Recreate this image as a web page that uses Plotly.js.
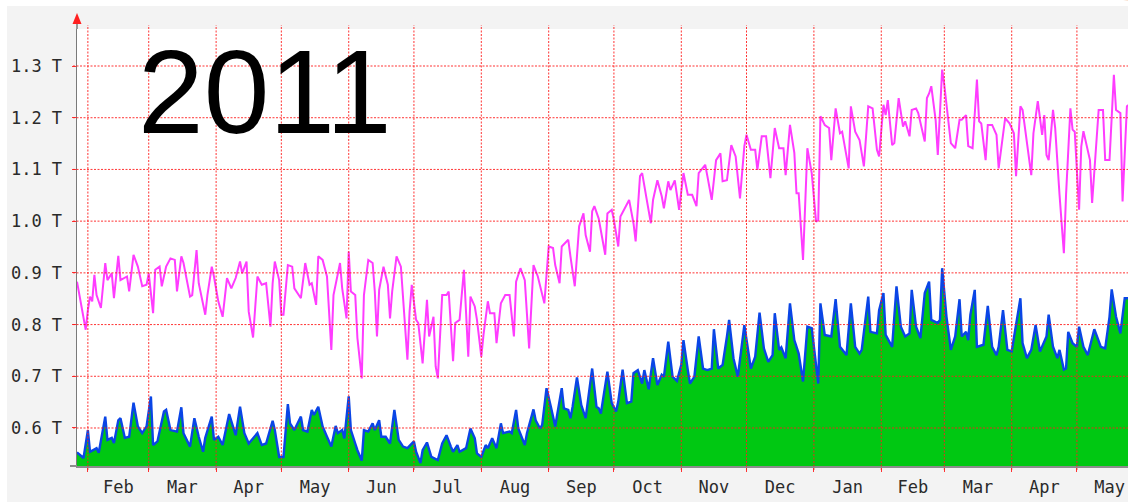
<!DOCTYPE html>
<html>
<head>
<meta charset="utf-8">
<script src="https://cdn.plot.ly/plotly-3.0.1.min.js"></script>
<style>
html,body{margin:0;padding:0;background:#ffffff;}
#chart{width:1128px;height:502px;}
</style>
</head>
<body>
<div id="chart"></div>
<script>
// ---------- data ----------
const START_DATE = '2011-01-27';          // day 0 of the series
const END_DAY = 483.5;                    // right edge of the visible window
const titleText = '2011';
const yTickValues = [0.6, 0.7, 0.8, 0.9, 1.0, 1.1, 1.2, 1.3];
const yTickLabels = ['0.6 T', '0.7 T', '0.8 T', '0.9 T', '1.0 T', '1.1 T', '1.2 T', '1.3 T'];

// green area / blue line series (day offsets + values in T)
const avgDays = [0,3,5,6,9,10,13,14,16,17,19,20,22,24,26,28,30,32,34,35,37,40,41,43,46,48,49,52,54,56,58,59,62,63,65,67,70,72,73,75,77,79,83,85,87,90,91,93,95,97,98,100,103,104,106,108,109,111,113,115,117,119,120,122,123,125,126,128,129,131,132,134,136,137,139,140,142,144,146,148,150,152,155,156,158,159,161,163,166,168,170,172,173,175,176,179,181,183,184,186,188,189,191,193,194,195,196,199,200,202,203,206,207,210,211,213,214,216,218,220,221,223,224,226,227,228,230,232,234,236,237,239,240,241,244,246,248,249,251,253,255,256,258,260,261,263,265,267,269,270,272,274,276,278,279,281,282,284,286,288,290,292,293,295,297,299,300,302,304,307,310,312,314,316,318,320,321,323,324,326,328,330,332,334,336,338,341,342,344,347,349,351,354,356,358,360,361,364,365,368,369,371,372,375,377,379,381,383,384,386,388,390,392,393,396,397,398,400,402,404,406,407,409,410,411,413,414,417,419,421,423,424,426,428,430,431,434,435,437,439,441,443,446,447,449,451,452,454,455,456,458,460,461,463,465,468,471,473,475,476,478,480,482,484];
const avgValues = [0.553,0.542,0.596,0.554,0.561,0.552,0.622,0.577,0.581,0.571,0.615,0.619,0.581,0.583,0.649,0.603,0.590,0.603,0.661,0.567,0.574,0.632,0.635,0.596,0.593,0.640,0.590,0.564,0.619,0.583,0.554,0.581,0.622,0.577,0.583,0.567,0.627,0.596,0.586,0.641,0.590,0.570,0.590,0.567,0.570,0.614,0.596,0.544,0.544,0.646,0.609,0.596,0.622,0.596,0.593,0.635,0.625,0.641,0.603,0.583,0.564,0.604,0.590,0.596,0.580,0.661,0.596,0.570,0.557,0.537,0.596,0.593,0.609,0.596,0.615,0.583,0.583,0.570,0.635,0.577,0.564,0.561,0.574,0.554,0.532,0.557,0.572,0.544,0.538,0.570,0.586,0.564,0.554,0.567,0.554,0.561,0.599,0.580,0.551,0.544,0.567,0.561,0.580,0.561,0.583,0.609,0.590,0.593,0.590,0.635,0.599,0.567,0.590,0.636,0.615,0.599,0.606,0.677,0.641,0.603,0.628,0.677,0.638,0.635,0.619,0.641,0.698,0.644,0.619,0.680,0.715,0.641,0.638,0.628,0.709,0.648,0.632,0.651,0.713,0.648,0.651,0.706,0.712,0.686,0.712,0.675,0.735,0.683,0.703,0.699,0.767,0.699,0.691,0.722,0.770,0.712,0.686,0.699,0.777,0.715,0.712,0.715,0.791,0.715,0.722,0.777,0.809,0.735,0.699,0.799,0.715,0.738,0.823,0.754,0.728,0.741,0.822,0.751,0.756,0.735,0.841,0.770,0.744,0.690,0.796,0.793,0.686,0.841,0.780,0.777,0.849,0.757,0.741,0.841,0.757,0.744,0.751,0.854,0.786,0.783,0.828,0.861,0.780,0.757,0.874,0.796,0.777,0.783,0.867,0.796,0.774,0.861,0.883,0.809,0.803,0.809,0.909,0.815,0.751,0.777,0.849,0.777,0.786,0.770,0.819,0.867,0.757,0.761,0.836,0.757,0.741,0.757,0.828,0.751,0.748,0.774,0.851,0.764,0.735,0.751,0.799,0.748,0.777,0.819,0.757,0.735,0.751,0.713,0.715,0.786,0.764,0.757,0.796,0.757,0.741,0.791,0.757,0.754,0.815,0.868,0.815,0.783,0.851,0.851];

// magenta line series (day offsets + values in T)
const maxDays = [0,2,4,5,6,7,8,9,11,13,14,16,17,19,20,23,24,26,28,30,32,33,35,36,38,39,41,43,45,46,48,49,52,53,55,56,59,60,62,63,65,67,69,71,73,75,76,78,79,81,83,85,87,89,90,91,93,94,95,97,99,100,103,105,107,108,110,111,113,115,117,118,121,122,124,125,126,128,129,131,132,134,136,137,138,139,141,143,144,145,147,149,150,152,153,154,156,157,159,161,162,164,165,166,168,170,171,173,174,176,178,180,181,183,184,186,187,189,190,192,193,195,197,199,201,202,204,206,208,210,212,213,215,217,219,220,222,223,226,227,229,231,233,234,236,237,238,240,242,243,244,246,247,249,250,252,254,256,257,259,260,262,264,265,267,269,270,272,273,275,277,279,281,283,285,286,289,290,292,294,296,297,299,301,303,305,307,308,310,312,313,315,317,319,321,323,325,326,328,330,331,332,334,336,338,340,341,342,344,346,347,349,351,352,355,356,358,360,362,364,366,368,369,371,372,373,375,376,378,380,381,383,384,386,387,390,391,392,393,395,396,398,399,402,404,406,407,409,410,412,414,415,416,418,419,421,423,424,427,429,431,432,434,435,437,439,440,442,444,445,446,447,449,450,452,454,455,457,458,459,461,462,463,465,466,467,470,472,473,475,477,478,480,481,483,484];
const maxValues = [0.883,0.835,0.790,0.828,0.854,0.845,0.896,0.857,0.832,0.919,0.886,0.899,0.851,0.933,0.886,0.893,0.864,0.935,0.912,0.874,0.877,0.899,0.822,0.906,0.912,0.874,0.912,0.928,0.925,0.864,0.932,0.919,0.854,0.857,0.944,0.880,0.819,0.857,0.912,0.893,0.845,0.815,0.890,0.870,0.890,0.922,0.899,0.922,0.825,0.775,0.893,0.877,0.880,0.796,0.880,0.922,0.886,0.819,0.819,0.915,0.912,0.870,0.851,0.919,0.877,0.880,0.838,0.932,0.925,0.893,0.751,0.857,0.919,0.870,0.812,0.941,0.864,0.857,0.774,0.696,0.857,0.925,0.919,0.864,0.777,0.867,0.912,0.877,0.812,0.864,0.932,0.912,0.857,0.732,0.825,0.877,0.809,0.803,0.725,0.848,0.777,0.815,0.719,0.696,0.857,0.857,0.864,0.729,0.803,0.809,0.906,0.738,0.854,0.835,0.809,0.738,0.780,0.845,0.822,0.822,0.764,0.841,0.857,0.857,0.777,0.883,0.909,0.886,0.754,0.915,0.893,0.877,0.841,0.951,0.948,0.915,0.880,0.951,0.964,0.932,0.874,0.990,1.015,0.973,0.941,1.019,1.029,1.005,0.957,0.935,1.015,1.022,1.002,0.951,1.009,1.025,1.041,0.996,0.961,1.087,1.093,1.044,0.996,1.041,1.079,1.048,1.025,1.077,1.060,1.079,1.022,1.093,1.051,1.051,1.029,1.093,1.109,1.087,1.041,1.118,1.131,1.077,1.079,1.147,1.125,1.044,1.145,1.167,1.138,1.138,1.099,1.164,1.164,1.083,1.180,1.141,1.141,1.089,1.186,1.132,1.054,1.054,0.925,1.141,1.093,0.999,1.002,1.203,1.186,1.180,1.118,1.218,1.170,1.173,1.102,1.222,1.173,1.157,1.106,1.222,1.218,1.138,1.125,1.225,1.205,1.234,1.147,1.151,1.238,1.183,1.193,1.164,1.215,1.218,1.209,1.154,1.238,1.247,1.261,1.196,1.128,1.293,1.263,1.151,1.141,1.196,1.196,1.205,1.145,1.141,1.274,1.193,1.189,1.118,1.186,1.186,1.167,1.102,1.199,1.189,1.170,1.087,1.222,1.215,1.157,1.089,1.170,1.232,1.167,1.205,1.128,1.118,1.215,1.180,1.051,0.938,1.051,1.218,1.177,1.173,1.022,1.144,1.174,1.138,1.118,1.035,1.215,1.215,1.118,1.118,1.283,1.215,1.209,1.038,1.222,1.225];

// ---------- helpers ----------
const DAY_MS = 86400000;
const startMs = Date.parse(START_DATE + 'T00:00:00Z');
function dayToDate(d) {
  return new Date(startMs + d * DAY_MS).toISOString().replace('T', ' ').replace('Z', '').slice(0, 19);
}
const avgDates = avgDays.map(dayToDate);
const maxDates = maxDays.map(dayToDate);
const xRange = [dayToDate(0), dayToDate(END_DAY)];

// month boundaries inside the window (for the dotted grid drawn over the data)
const monthStarts = [];
{
  const s = new Date(startMs), e = startMs + END_DAY * DAY_MS;
  let y = s.getUTCFullYear(), m = s.getUTCMonth() + 1;
  while (true) {
    const t = Date.UTC(y, m, 1);
    if (t > e) break;
    monthStarts.push(new Date(t).toISOString().slice(0, 10));
    m++;
  }
}

// plot-area geometry (pixels) -> paper coordinates for decorations
const ML = 77, MT = 29, MB = 36, W = 1128, H = 502;
const PW = W - ML, PH = H - MT - MB;
const px = x => (x - ML) / PW;
const py = y => (MT + PH - y) / PH;

const GRID_COLOR = 'rgba(255,30,30,0.9)';
const GRID_DASH = '2px,1.5px';

const shapes = [];
// grey frame of the rrd picture
shapes.push({type: 'rect', xref: 'paper', yref: 'paper', layer: 'below',
  x0: px(7), x1: px(1140), y0: py(510), y1: py(6),
  fillcolor: '#f3f3f3', line: {width: 0}});
// white canvas of the plotting area
shapes.push({type: 'rect', xref: 'paper', yref: 'paper', layer: 'below',
  x0: 0, x1: px(1140), y0: 0, y1: 1,
  fillcolor: '#ffffff', line: {width: 0}});
// faint orange blob at the top right (slide decoration)
shapes.push({type: 'circle', xref: 'paper', yref: 'paper', layer: 'below',
  x0: px(1040), x1: px(1330), y0: py(6), y1: py(-120),
  fillcolor: 'rgba(246,214,190,0.75)', line: {width: 0}});
// horizontal dotted grid
yTickValues.forEach(v => shapes.push({type: 'line', xref: 'paper', yref: 'y', layer: 'above',
  x0: px(73), x1: 1, y0: v, y1: v, line: {color: GRID_COLOR, width: 1, dash: GRID_DASH}}));
// vertical dotted grid at month starts
monthStarts.forEach(d => shapes.push({type: 'line', xref: 'x', yref: 'paper', layer: 'above',
  x0: d, x1: d, y0: py(470), y1: py(25), line: {color: GRID_COLOR, width: 1, dash: GRID_DASH}}));
// y axis extension + red arrow
shapes.push({type: 'line', xref: 'paper', yref: 'paper', layer: 'above',
  x0: 0, x1: 0, y0: 1, y1: py(22), line: {color: '#7a7a7a', width: 1.5}});
shapes.push({type: 'path', xref: 'paper', yref: 'paper', layer: 'above',
  path: 'M ' + px(77) + ' ' + py(13) + ' L ' + px(72.5) + ' ' + py(24) + ' L ' + px(81.5) + ' ' + py(24) + ' Z',
  fillcolor: '#ff2020', line: {width: 0}});
// x axis extension to the left
shapes.push({type: 'line', xref: 'paper', yref: 'paper', layer: 'above',
  x0: px(70), x1: 0, y0: 0, y1: 0, line: {color: '#8c8c8c', width: 2}});

const traces = [
  {type: 'scatter', mode: 'lines', x: maxDates, y: maxValues, name: 'max',
   line: {color: '#ff3cff', width: 2, shape: 'linear'}, hoverinfo: 'x+y'},
  {type: 'scatter', mode: 'lines', x: avgDates, y: avgValues, name: 'avg',
   fill: 'tozeroy', fillcolor: '#00c812',
   line: {color: '#0a45e6', width: 2.4, shape: 'linear'}, hoverinfo: 'x+y'}
];

const tickFont = {family: '"DejaVu Sans Mono", monospace', size: 17, color: '#2a2a2a'};

const layout = {
  width: W, height: H,
  margin: {l: ML, r: 0, t: MT, b: MB, pad: 0},
  paper_bgcolor: 'rgba(0,0,0,0)',
  plot_bgcolor: 'rgba(0,0,0,0)',
  showlegend: false,
  xaxis: {
    type: 'date', range: xRange,
    tick0: '2011-01-01', dtick: 'M1', tickformat: '%b', ticklabelmode: 'period',
    showgrid: false, zeroline: false,
    showline: true, linecolor: '#8c8c8c', linewidth: 2,
    ticks: 'outside', ticklen: 4, tickcolor: GRID_COLOR, tickwidth: 1,
    tickfont: tickFont, ticklabelstandoff: 1, fixedrange: true
  },
  yaxis: {
    range: [0.6 - 38 / 517, 1.3 + 37 / 517],
    tickvals: yTickValues, ticktext: yTickLabels,
    showgrid: false, zeroline: false,
    showline: true, linecolor: '#7a7a7a', linewidth: 1.5,
    ticks: 'outside', ticklen: 4, tickcolor: GRID_COLOR, tickwidth: 1,
    tickfont: tickFont, ticklabelstandoff: 6, fixedrange: true
  },
  shapes: shapes,
  annotations: [{
    text: titleText, xref: 'paper', yref: 'paper',
    x: px(265), y: py(91.5), xanchor: 'center', yanchor: 'middle',
    showarrow: false,
    font: {family: '"Liberation Sans", Arial, sans-serif', size: 118, color: '#000000'}
  }]
};

Plotly.newPlot('chart', traces, layout, {displayModeBar: false, staticPlot: true});
</script>
</body>
</html>
